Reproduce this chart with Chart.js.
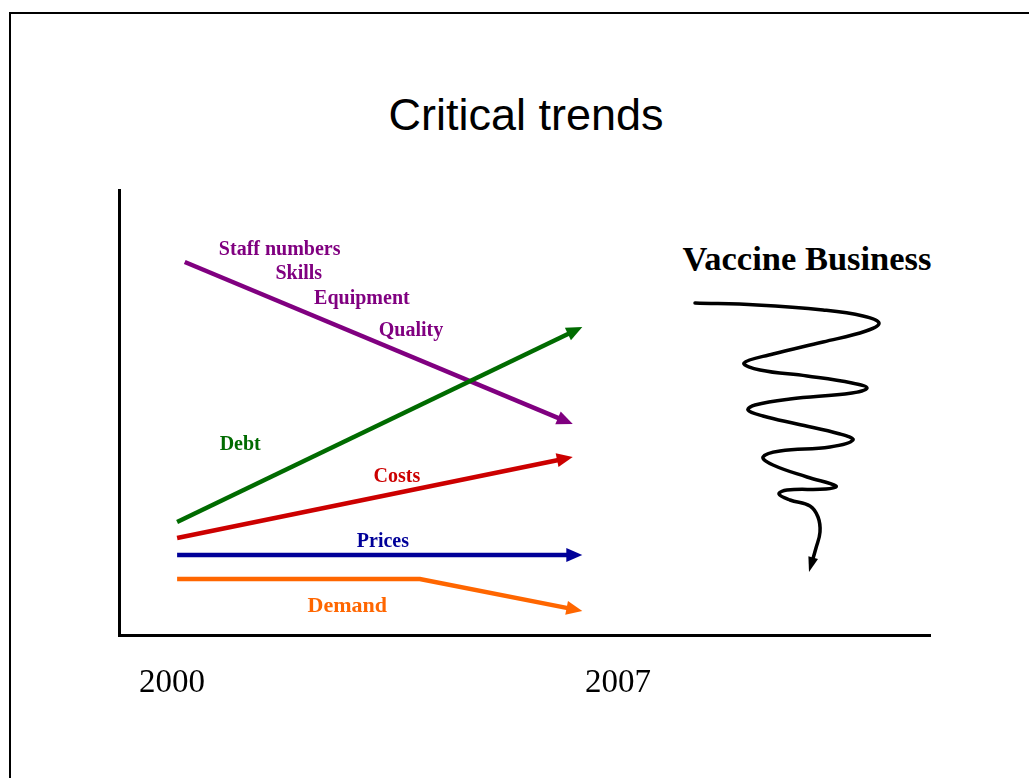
<!DOCTYPE html>
<html>
<head>
<meta charset="utf-8">
<title>Critical trends</title>
<script src="https://cdn.jsdelivr.net/npm/chart.js@4.4.1/dist/chart.umd.min.js"></script>
<style>
  html, body { margin: 0; padding: 0; background: #fff; }
  #page { position: relative; width: 1029px; height: 778px; overflow: hidden; }
  #frame { position: absolute; left: 9px; top: 12px; width: 1100px; height: 900px;
           border: 2px solid #000; box-sizing: border-box; }
  #title { position: absolute; left: 0; top: 89px; width: 1052px; text-align: center;
           font: 45px "Liberation Sans", Arial, sans-serif; line-height: 52px; color: #000; }
  #side { position: absolute; left: 607px; top: 237px; width: 400px; text-align: center;
          font: bold 34.5px "Liberation Serif", "Times New Roman", serif; line-height: 42px; color: #000; }
  #wrap { position: absolute; left: 0; top: 0; width: 1029px; height: 778px; }
</style>
</head>
<body>
<div id="page">
  <div id="frame"></div>
  <div id="title">Critical trends</div>
  <div id="side">Vaccine Business</div>
  <div id="wrap"><canvas id="chart"></canvas></div>
</div>
<script>
// Year ticks on the time axis
const yearTicks = [2000, 2007];

// Trend lines: x in years, y in relative level
const staffNumbers = [{x: 2000.20, y: 74.6}, {x: 2006.29, y: 42.2}];
const debt         = [{x: 2000.08, y: 22.6}, {x: 2006.44, y: 61.6}];
const costs        = [{x: 2000.08, y: 19.4}, {x: 2006.29, y: 35.6}];
const prices       = [{x: 2000.08, y: 16.0}, {x: 2006.44, y: 16.0}];
const demand       = [{x: 2000.08, y: 11.2}, {x: 2003.89, y: 11.2}, {x: 2006.44, y: 4.8}];

// "Vaccine Business" downward spiral, on its own horizontal scale
const vaccineSpiral = [
  {x: 57.6, y: 66.4}, {x: 63.8, y: 66.0}, {x: 70.4, y: 65.0}, {x: 74.4, y: 63.8},
  {x: 76.0, y: 62.4}, {x: 74.7, y: 60.8}, {x: 70.4, y: 58.6}, {x: 65.4, y: 56.2},
  {x: 62.5, y: 54.4}, {x: 64.1, y: 53.0}, {x: 68.8, y: 51.8}, {x: 73.3, y: 50.4},
  {x: 74.8, y: 49.4}, {x: 73.3, y: 48.4}, {x: 67.1, y: 47.2}, {x: 63.6, y: 46.0},
  {x: 62.9, y: 45.0}, {x: 64.4, y: 43.8}, {x: 67.8, y: 42.2}, {x: 72.1, y: 40.2},
  {x: 73.4, y: 39.0}, {x: 71.1, y: 37.6}, {x: 66.1, y: 36.8}, {x: 64.4, y: 35.6},
  {x: 65.4, y: 34.0}, {x: 68.8, y: 31.6}, {x: 71.7, y: 29.8}, {x: 70.7, y: 29.2},
  {x: 66.8, y: 29.0}, {x: 66.0, y: 28.2}, {x: 67.1, y: 27.0}, {x: 69.1, y: 25.8},
  {x: 69.9, y: 23.6}, {x: 70.1, y: 20.6}, {x: 69.7, y: 17.4}, {x: 69.0, y: 12.6}
];

const PURPLE = '#800080';
const GREEN  = '#006b00';
const RED    = '#cc0000';
const BLUE   = '#000099';
const ORANGE = '#ff6600';

// Text labels placed next to the trend lines (data coordinates)
const seriesLabels = [
  {text: 'Staff numbers', x: 2001.69, y: 77.0, color: PURPLE, size: 20},
  {text: 'Skills',        x: 2001.99, y: 72.2, color: PURPLE, size: 20},
  {text: 'Equipment',     x: 2002.98, y: 67.2, color: PURPLE, size: 20},
  {text: 'Quality',       x: 2003.75, y: 60.8, color: PURPLE, size: 20},
  {text: 'Debt',          x: 2001.07, y: 38.0, color: GREEN,  size: 20},
  {text: 'Costs',         x: 2003.53, y: 31.6, color: RED,    size: 20},
  {text: 'Prices',        x: 2003.31, y: 18.6, color: BLUE,   size: 20},
  {text: 'Demand',        x: 2002.75, y: 5.8,  color: ORANGE, size: 22}
];

// Shortens each arrowed line so its end sits inside the head, then draws the head
const arrowHeads = {
  id: 'arrowHeads',
  beforeDatasetDraw(chart, args) {
    const ds = chart.data.datasets[args.index];
    if (!ds.arrow) return;
    const pts = args.meta.data;
    const tip = pts[pts.length - 1];
    let from = pts[pts.length - 2];
    if (ds.tension && tip.cp1x !== undefined && Math.hypot(tip.x - tip.cp1x, tip.y - tip.cp1y) > 1) {
      from = {x: tip.cp1x, y: tip.cp1y};
    }
    const ang = Math.atan2(tip.y - from.y, tip.x - from.x);
    const cut = ds.arrow.len * 0.6;
    ds._tip = {x: tip.x, y: tip.y, ang};
    tip.x -= Math.cos(ang) * cut;
    tip.y -= Math.sin(ang) * cut;
  },
  afterDatasetDraw(chart, args) {
    const ds = chart.data.datasets[args.index];
    if (!ds.arrow || !ds._tip) return;
    const pts = args.meta.data;
    const tip = pts[pts.length - 1];
    const {x, y, ang} = ds._tip;
    tip.x = x; tip.y = y;
    const L = ds.arrow.len, W = ds.arrow.half;
    const c = Math.cos(ang), s = Math.sin(ang);
    const ctx = chart.ctx;
    ctx.save();
    ctx.fillStyle = ds.borderColor;
    ctx.beginPath();
    ctx.moveTo(x, y);
    ctx.lineTo(x - L * c + W * s, y - L * s - W * c);
    ctx.lineTo(x - L * c - W * s, y - L * s + W * c);
    ctx.closePath();
    ctx.fill();
    ctx.restore();
  }
};

// Writes the trend names at their data positions
const trendLabels = {
  id: 'trendLabels',
  afterDatasetsDraw(chart) {
    const ctx = chart.ctx;
    const xs = chart.scales.x, ys = chart.scales.y;
    ctx.save();
    ctx.textAlign = 'center';
    ctx.textBaseline = 'middle';
    seriesLabels.forEach(l => {
      ctx.font = 'bold ' + l.size + 'px "Liberation Serif", "Times New Roman", serif';
      ctx.fillStyle = l.color;
      ctx.fillText(l.text, xs.getPixelForValue(l.x), ys.getPixelForValue(l.y));
    });
    ctx.restore();
  }
};

function line(label, data, color, width) {
  return {
    label, data, borderColor: color, backgroundColor: color,
    borderWidth: width, tension: 0, pointRadius: 0, pointHoverRadius: 0,
    borderCapStyle: 'butt', borderJoinStyle: 'miter', fill: false,
    arrow: {len: 16, half: 7}
  };
}

new Chart(document.getElementById('chart'), {
  type: 'line',
  data: {
    datasets: [
      line('Debt', debt, GREEN, 4.5),
      line('Staff numbers', staffNumbers, PURPLE, 4.5),
      line('Costs', costs, RED, 4.5),
      line('Prices', prices, BLUE, 4.5),
      line('Demand', demand, ORANGE, 4.5),
      {
        label: 'Vaccine Business', data: vaccineSpiral, xAxisID: 'sx',
        borderColor: '#000', backgroundColor: '#000', borderWidth: 3.5,
        tension: 0.4, pointRadius: 0, pointHoverRadius: 0, fill: false,
        borderCapStyle: 'round', arrow: {len: 15, half: 5}
      }
    ]
  },
  options: {
    responsive: true,
    maintainAspectRatio: false,
    animation: false,
    events: [],
    layout: {padding: {top: 190, right: 99, left: 0, bottom: 0}},
    plugins: {legend: {display: false}, tooltip: {enabled: false}, title: {display: false}},
    scales: {
      x: {
        type: 'linear', position: 'bottom', min: 1999.168, max: 2011.897,
        afterBuildTicks: s => { s.ticks = yearTicks.map(v => ({value: v})); },
        afterFit: s => { s.height = 143; },
        grid: {display: false, drawTicks: false},
        border: {display: true, color: '#000', width: 3},
        ticks: {
          color: '#000', padding: 29, maxRotation: 0, autoSkip: false,
          font: {family: '"Liberation Serif", "Times New Roman", serif', size: 33},
          callback: v => String(v)
        }
      },
      sx: {type: 'linear', axis: 'x', position: 'bottom', display: false, min: 0, max: 81.1},
      y: {
        type: 'linear', min: 0, max: 89,
        afterFit: s => { s.width = 119; },
        grid: {display: false, drawTicks: false},
        border: {display: true, color: '#000', width: 3},
        ticks: {display: false}
      }
    }
  },
  plugins: [arrowHeads, trendLabels]
});
</script>
</body>
</html>
